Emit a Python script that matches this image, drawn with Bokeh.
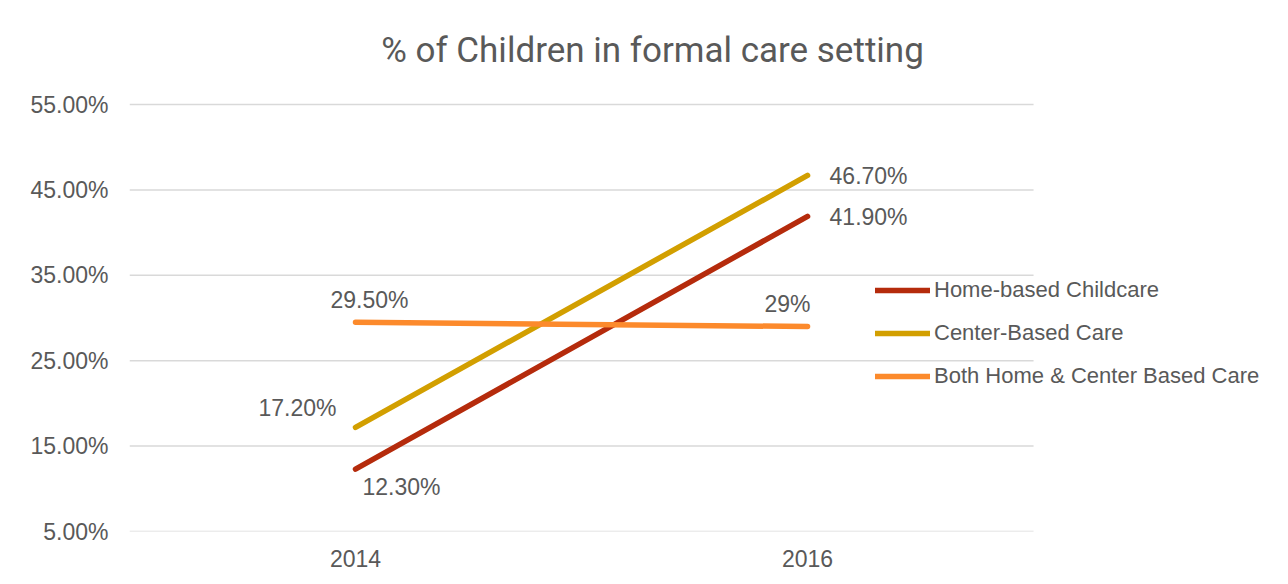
from bokeh.plotting import figure
from bokeh.models import (Range1d, FixedTicker, PrintfTickFormatter,
                          Legend, LegendItem, Label, ColumnDataSource)
from bokeh.core.properties import value
from bokeh.embed import file_html
from bokeh.resources import INLINE

years = [2014, 2016]
home = [12.3, 41.9]
center = [17.2, 46.7]
both = [29.5, 29.0]
home_labels = ["12.30%", "41.90%"]
center_labels = ["17.20%", "46.70%"]
both_labels = ["29.50%", "29%"]
series_names = ["Home-based Childcare", "Center-Based Care", "Both Home & Center Based Care"]
y_ticks = [5, 15, 25, 35, 45, 55]

colors = ["#B52B0C", "#D29F00", "#FC8A2C"]
FONT = "Liberation Sans"
TXT = "#595959"

# plot area: one category slot on each side of the years
x_lo, x_hi = years[0] - 1, years[-1] + 1

p = figure(width=1288, height=584,
           x_range=Range1d(x_lo, years[-1] + 2.128), y_range=Range1d(5, 67.18),
           output_backend="svg", toolbar_location=None,
           min_border_left=129, min_border_right=0, min_border_top=0,
           min_border_bottom=53, background_fill_color="white",
           border_fill_color="white", outline_line_color=None)

p.xgrid.grid_line_color = None
p.ygrid.grid_line_color = None
p.segment(x0=[x_lo] * len(y_ticks), x1=[x_hi] * len(y_ticks), y0=y_ticks, y1=y_ticks,
          line_color="#D9D9D9", line_width=1.5)

p.xaxis.ticker = FixedTicker(ticks=years)
p.xaxis.formatter = PrintfTickFormatter(format="%d")
p.yaxis.ticker = FixedTicker(ticks=y_ticks)
p.yaxis.formatter = PrintfTickFormatter(format="%.2f%%")
for ax in (p.xaxis[0], p.yaxis[0]):
    ax.axis_line_color = None
    ax.major_tick_line_color = None
    ax.minor_tick_line_color = None
    ax.major_label_text_font = FONT
    ax.major_label_text_font_size = "23px"
    ax.major_label_text_color = TXT
p.yaxis.major_label_standoff = 15
p.xaxis.major_label_standoff = 12

renderers = []
for vals, col in zip([home, center, both], colors):
    r = p.line(x=years, y=vals, line_color=col, line_width=5.5, line_cap="round")
    renderers.append(r)

# data labels
lab_x = years + years + years
lab_y = home + center + both
lab_t = home_labels + center_labels + both_labels
align = ["left", "left", "right", "left", "center", "center"]
xoff = [7, 22, -19, 22, 14, -20]
yoff = [18, 1, -19, 1, -22, -23]
src = ColumnDataSource(dict(x=lab_x, y=lab_y, t=lab_t, a=align, xo=xoff, yo=yoff))
p.text(x="x", y="y", text="t", source=src, text_align="a", x_offset="xo", y_offset="yo",
       text_baseline="middle", text_font=value(FONT), text_font_size="23px",
       text_color=TXT)

legend = Legend(items=[LegendItem(label=n, renderers=[r]) for n, r in zip(series_names, renderers)],
                location=(746, 142), orientation="vertical",
                glyph_width=55, glyph_height=24, label_height=24, label_standoff=4,
                spacing=17, padding=0, margin=0,
                label_text_font=FONT, label_text_font_size="22px", label_text_color=TXT,
                background_fill_alpha=0, border_line_color=None)
p.add_layout(legend, "center")

title = Label(x=523, y=481, x_units="screen", y_units="screen",
              text="% of Children in formal care setting", text_align="center",
              text_baseline="middle", text_font="Roboto",
              text_font_size="35px", text_color=TXT)
p.add_layout(title)

open("out.html", "w").write(file_html(p, INLINE))
